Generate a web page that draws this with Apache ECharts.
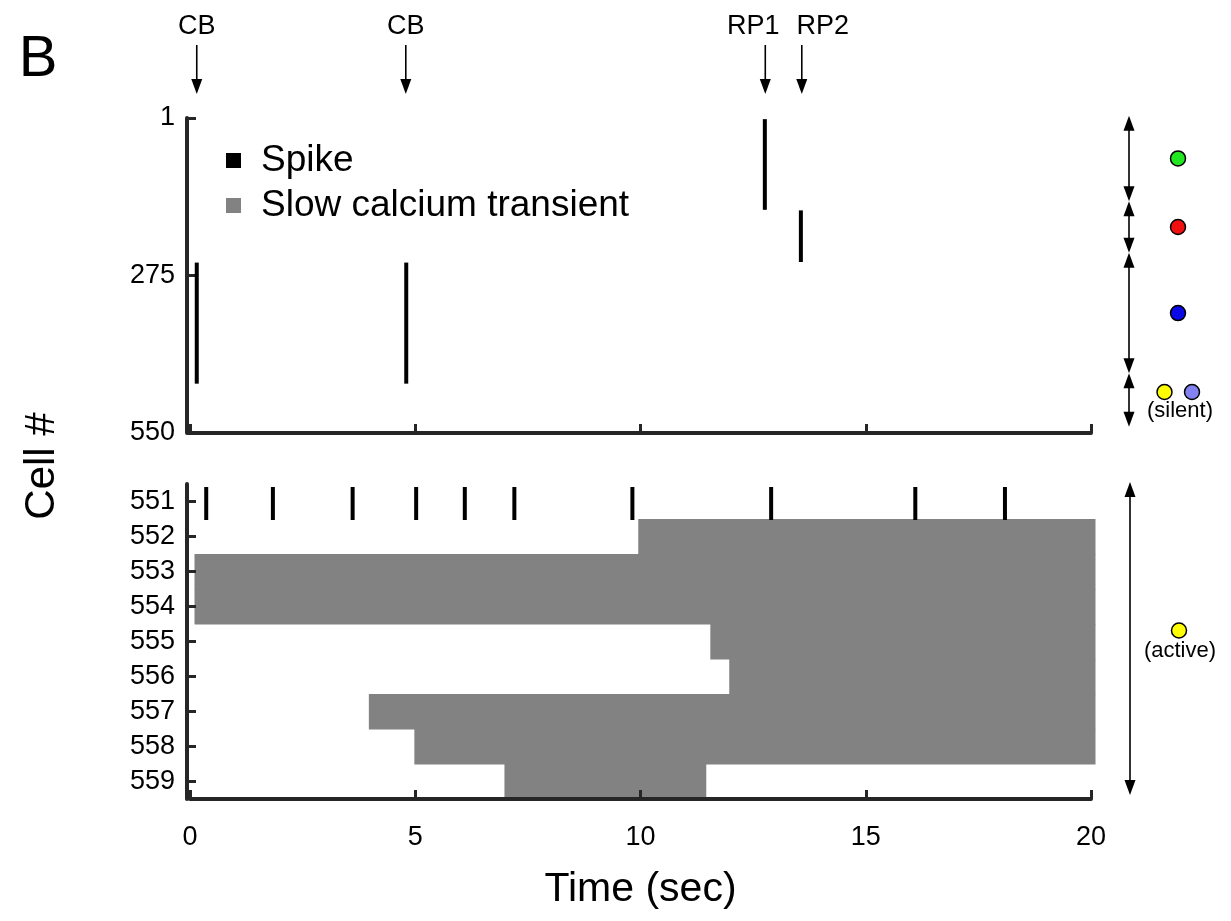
<!DOCTYPE html>
<html>
<head>
<meta charset="utf-8">
<title>Cell raster</title>
<script src="https://cdn.jsdelivr.net/npm/echarts@6/dist/echarts.min.js"></script>
<style>
html, body { margin: 0; padding: 0; background: #fff; }
#chart { width: 1231px; height: 921px; }
</style>
</head>
<body>
<div id="chart"></div>
<script>
// time axis (sec)
var timeTicks = [0, 5, 10, 15, 20];

// top panel, cells 1-550
var topCellTicks = [1, 275, 550];
// [time, first cell, last cell]
var topSpikes = [
	[0.15, 253, 464],
	[4.8, 253, 464],
	[12.76, 3, 161],
	[13.56, 162, 252]
];

// events marked above the plot
var eventNames = ['CB', 'CB', 'RP1', 'RP2'];
var eventTimes = [0.15, 4.79, 12.77, 13.58];

// bottom panel, single cells
var cells = ['551', '552', '553', '554', '555', '556', '557', '558', '559'];
var cell551Spikes = [0.36, 1.84, 3.61, 5.02, 6.1, 7.2, 9.82, 12.9, 16.1, 18.09];
// slow calcium transient: [cell index, start, end]
var transients = [
	[1, 9.95, 20.1],
	[2, 0.1, 20.1],
	[3, 0.1, 20.1],
	[4, 11.55, 20.1],
	[5, 11.97, 20.1],
	[6, 3.97, 20.1],
	[7, 4.98, 20.1],
	[8, 6.98, 11.46]
];

// cell groups on the right (cell # edges of the arrows)
var groupEdges = [-3, 146, 236, 446, 539];
var groupColors = [['#22e622'], ['#f01010'], ['#0a0ae6'], ['#ffff00', '#8282f0']];
var activeColor = '#ffff00';

var FONT = "'Liberation Sans', Arial, sans-serif";
var AXIS = '#262626';

var chartObj = echarts.init(document.getElementById('chart'));

var axisLine = { show: true, onZero: false, lineStyle: { color: AXIS, width: 4 } };

function xAxisOpt(idx, showLabel) {
	return {
		type: 'value',
		gridIndex: idx,
		position: 'bottom',
		min: timeTicks[0],
		max: timeTicks[timeTicks.length - 1],
		interval: timeTicks[1] - timeTicks[0],
		axisLine: axisLine,
		axisTick: { show: true, inside: true, length: 9, lineStyle: { color: AXIS, width: 3 } },
		axisLabel: { show: showLabel, color: '#000', fontSize: 27, fontFamily: FONT, margin: 25 },
		splitLine: { show: false }
	};
}

var option = {
	animation: false,
	textStyle: { fontFamily: FONT },
	legend: {
		orient: 'vertical',
		left: 221,
		top: 137,
		itemWidth: 15,
		itemHeight: 15,
		itemGap: 8,
		icon: 'rect',
		selectedMode: false,
		textStyle: { fontSize: 37, color: '#000', fontFamily: FONT, padding: [0, 0, 0, 15] },
		data: ['Spike', 'Slow calcium transient']
	},
	grid: [
		{ left: 190, right: 140, top: 118, height: 315 },
		{ left: 190, right: 140, top: 484, height: 315 }
	],
	xAxis: [
		xAxisOpt(0, false),
		Object.assign(xAxisOpt(1, true), {
			name: 'Time (sec)',
			nameLocation: 'middle',
			nameGap: 70,
			nameTextStyle: { fontSize: 41, color: '#000', fontFamily: FONT }
		})
	],
	yAxis: [
		{
			type: 'value',
			gridIndex: 0,
			position: 'left',
			min: 1,
			max: 550,
			inverse: true,
			offset: 3,
			axisLine: axisLine,
			axisTick: { show: true, inside: true, length: 9, customValues: topCellTicks, lineStyle: { color: AXIS, width: 3 } },
			axisLabel: { customValues: topCellTicks, color: '#000', fontSize: 27, fontFamily: FONT, margin: 12 },
			splitLine: { show: false }
		},
		{
			type: 'category',
			gridIndex: 1,
			position: 'left',
			data: cells,
			inverse: true,
			offset: 3,
			axisLine: axisLine,
			axisTick: { show: true, inside: true, length: 9, interval: 0, alignWithLabel: true, lineStyle: { color: AXIS, width: 3 } },
			axisLabel: { interval: 0, color: '#000', fontSize: 27, fontFamily: FONT, margin: 12 },
			splitLine: { show: false }
		}
	],
	series: [
		{
			name: 'Slow calcium transient',
			type: 'custom',
			xAxisIndex: 1,
			yAxisIndex: 1,
			z: -1,
			itemStyle: { color: '#828282' },
			encode: { x: [1, 2], y: 0 },
			renderItem: function (params, api) {
				var p1 = api.coord([api.value(1), api.value(0)]);
				var p2 = api.coord([api.value(2), api.value(0)]);
				var band = api.size([0, 1])[1];
				return {
					type: 'rect',
					shape: { x: p1[0], y: p1[1] - band / 2, width: p2[0] - p1[0], height: band + 0.5 },
					style: { fill: '#828282' }
				};
			},
			data: transients
		},
		{
			name: 'Spike',
			type: 'custom',
			xAxisIndex: 0,
			yAxisIndex: 0,
			itemStyle: { color: '#000' },
			encode: { x: 0, y: [1, 2] },
			renderItem: function (params, api) {
				var p1 = api.coord([api.value(0), api.value(1)]);
				var p2 = api.coord([api.value(0), api.value(2)]);
				return {
					type: 'rect',
					shape: { x: p1[0] - 2, y: p1[1], width: 4, height: p2[1] - p1[1] },
					style: { fill: '#000' }
				};
			},
			data: topSpikes
		},
		{
			name: 'Spike',
			type: 'custom',
			xAxisIndex: 1,
			yAxisIndex: 1,
			itemStyle: { color: '#000' },
			encode: { x: 0, y: 1 },
			renderItem: function (params, api) {
				var p = api.coord([api.value(0), api.value(1)]);
				var band = api.size([0, 1])[1];
				return {
					type: 'rect',
					shape: { x: p[0] - 2, y: p[1] - band / 2 + 3, width: 4, height: band - 2 },
					style: { fill: '#000' }
				};
			},
			data: cell551Spikes.map(function (t) { return [t, 0]; })
		}
	]
};
chartObj.setOption(option);

// annotations placed with the axes' own scales
function xPx(axis, v) { return chartObj.convertToPixel({ xAxisIndex: axis }, v); }
function yPx(axis, v) { return chartObj.convertToPixel({ yAxisIndex: axis }, v); }

function head(x, y, dir) {
	// filled arrow head, tip at (x, y); dir 1 = down, -1 = up
	return {
		type: 'polygon',
		shape: { points: [[x, y], [x - 5.5, y - 15 * dir], [x + 5.5, y - 15 * dir]] },
		style: { fill: '#000' }
	};
}
function vline(x, y1, y2) {
	return { type: 'line', shape: { x1: x, y1: y1, x2: x, y2: y2 }, style: { stroke: '#000', lineWidth: 1.6 } };
}
function dot(x, y, color) {
	return { type: 'circle', shape: { cx: x, cy: y, r: 7.5 }, style: { fill: color, stroke: '#000', lineWidth: 1.5 } };
}
function label(x, y, text, size, align) {
	return {
		type: 'text', x: x, y: y,
		style: { text: text, fontSize: size, fontFamily: FONT, fill: '#000', align: align || 'center', verticalAlign: 'middle' }
	};
}

var g = [];
g.push(label(38, 60, 'B', 58));
g.push({
	type: 'text', x: 42, y: 466, rotation: Math.PI / 2,
	style: { text: 'Cell #', fontSize: 42, fontFamily: FONT, fill: '#000', align: 'center', verticalAlign: 'middle' }
});

// event arrows above the top panel
eventTimes.forEach(function (t, i) {
	var x = xPx(0, t);
	g.push(vline(x, 45, 90));
	g.push(head(x, 94, 1));
	var dx = 0;
	if (i > 0 && t - eventTimes[i - 1] < 1.5) dx = 21;
	if (i < eventTimes.length - 1 && eventTimes[i + 1] - t < 1.5) dx = -12;
	g.push(label(x + dx, 27, eventNames[i], 27));
});

// group arrows on the right of the top panel
var ax = xPx(0, 20) + 38;
var dx0 = xPx(0, 20) + 87;
for (var i = 0; i < groupEdges.length - 1; i++) {
	var y1 = yPx(0, groupEdges[i]);
	var y2 = yPx(0, groupEdges[i + 1]);
	g.push(vline(ax, y1 + 6, y2 - 6));
	g.push(head(ax, y1, -1));
	g.push(head(ax, y2, 1));
	var cols = groupColors[i];
	var mid = (y1 + y2) / 2;
	if (cols.length === 1) {
		g.push(dot(dx0, mid, cols[0]));
	} else {
		g.push(dot(dx0 - 13.5, mid - 8, cols[0]));
		g.push(dot(dx0 + 14, mid - 8, cols[1]));
		g.push(label(dx0 + 2, mid + 11, '(silent)', 22));
	}
}

// active cells arrow on the bottom panel
var band = yPx(1, 1) - yPx(1, 0);
var b1 = yPx(1, 0) - band / 2 - 2;
var b2 = yPx(1, cells.length - 1) + band / 2 - 4;
g.push(vline(ax + 1, b1 + 6, b2 - 6));
g.push(head(ax + 1, b1, -1));
g.push(head(ax + 1, b2, 1));
var bm = (b1 + b2) / 2;
g.push(dot(dx0 + 1, bm - 8, activeColor));
g.push(label(dx0 + 2, bm + 12, '(active)', 22));

chartObj.setOption({ graphic: g });
</script>
</body>
</html>
